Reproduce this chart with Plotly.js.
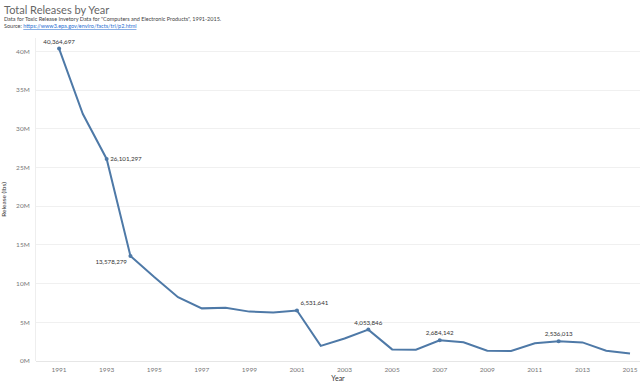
<!DOCTYPE html>
<html>
<head>
<meta charset="utf-8">
<script src="https://cdn.plot.ly/plotly-3.0.1.min.js"></script>
<style>html,body{margin:0;padding:0;background:#fff;}#chart{width:640px;height:385px;}</style>
</head>
<body>
<div id="chart"></div>
<script>
const years = [1991,1992,1993,1994,1995,1996,1997,1998,1999,2000,2001,2002,2003,2004,2005,2006,2007,2008,2009,2010,2011,2012,2013,2014,2015];
const releases = [40364697,31900000,26101297,13578279,10850000,8250000,6800000,6880000,6380000,6280000,6531641,1950000,2900000,4053846,1500000,1460000,2684142,2430000,1330000,1290000,2300000,2536013,2400000,1320000,980000];
const labelYears = [1991,1993,1994,2001,2004,2007,2012];
const labelPositions = ['top center','middle right','bottom left','top right','top center','top center','top center'];
const tickYears = [1991,1993,1995,1997,1999,2001,2003,2005,2007,2009,2011,2013,2015];
const yTickVals = [0,5e6,10e6,15e6,20e6,25e6,30e6,35e6,40e6];
const yTickText = ['0M','5M','10M','15M','20M','25M','30M','35M','40M'];

const labelVals = labelYears.map(y => releases[years.indexOf(y)]);
const fmt = v => v.toLocaleString('en-US');

const lineColor = '#4e79a7';
const traces = [
  {x: years, y: releases, type: 'scatter', mode: 'lines',
   line: {color: lineColor, width: 2}, hoverinfo: 'x+y'},
  {x: labelYears, y: labelVals, type: 'scatter', mode: 'markers+text',
   marker: {color: lineColor, size: 4},
   text: labelVals.map(fmt), textposition: labelPositions,
   textfont: {family: 'Lato, sans-serif', size: 6.2, color: '#333'},
   cliponaxis: false, hoverinfo: 'skip'}
];

const layout = {
  width: 640, height: 385,
  margin: {l: 36, r: 0, t: 38, b: 24},
  paper_bgcolor: '#fff', plot_bgcolor: '#fff',
  showlegend: false,
  font: {family: 'Lato, sans-serif', color: '#777'},
  xaxis: {
    range: [1990.03, 2015.42],
    tickvals: tickYears, ticktext: tickYears.map(String),
    tickfont: {size: 6.5, color: '#777'},
    showgrid: false, zeroline: false, showline: false,
    ticks: '', ticklen: 0, ticklabelstandoff: 3,
    title: {text: 'Year', font: {size: 7, color: '#333'}, standoff: 4}
  },
  yaxis: {
    range: [0, 41730000],
    tickvals: yTickVals, ticktext: yTickText,
    tickfont: {size: 6.5, color: '#777'},
    showgrid: true, gridcolor: '#f0f0f0', gridwidth: 1,
    zeroline: true, zerolinecolor: '#e6e6e6', zerolinewidth: 1,
    showline: true, linecolor: '#eeeeee', linewidth: 1,
    ticks: '', ticklabelstandoff: 4,
    title: {text: 'Release (lbs)', font: {size: 6.5, color: '#333'}, standoff: 8}
  },
  annotations: [
    {xref: 'paper', yref: 'paper', x: -0.057, y: 1.062, xanchor: 'left', yanchor: 'bottom',
     text: 'Total Releases by Year', showarrow: false,
     font: {family: 'Lato, sans-serif', size: 11, color: '#666'}},
    {xref: 'paper', yref: 'paper', x: -0.057, y: 1.043, xanchor: 'left', yanchor: 'bottom',
     text: 'Data for Toxic Release Invetory Data for "Computers and Electronic Products", 1991-2015.', showarrow: false,
     font: {family: 'Lato, sans-serif', size: 5.5, color: '#444'}},
    {xref: 'paper', yref: 'paper', x: -0.057, y: 1.021, xanchor: 'left', yanchor: 'bottom',
     text: 'Source: <span style="color:#2a6fd1"><u>https://www3.epa.gov/enviro/facts/tri/p2.html</u></span>', showarrow: false,
     font: {family: 'Lato, sans-serif', size: 5.5, color: '#444'}}
  ]
};

Plotly.newPlot('chart', traces, layout, {displayModeBar: false, staticPlot: true});
</script>
</body>
</html>
